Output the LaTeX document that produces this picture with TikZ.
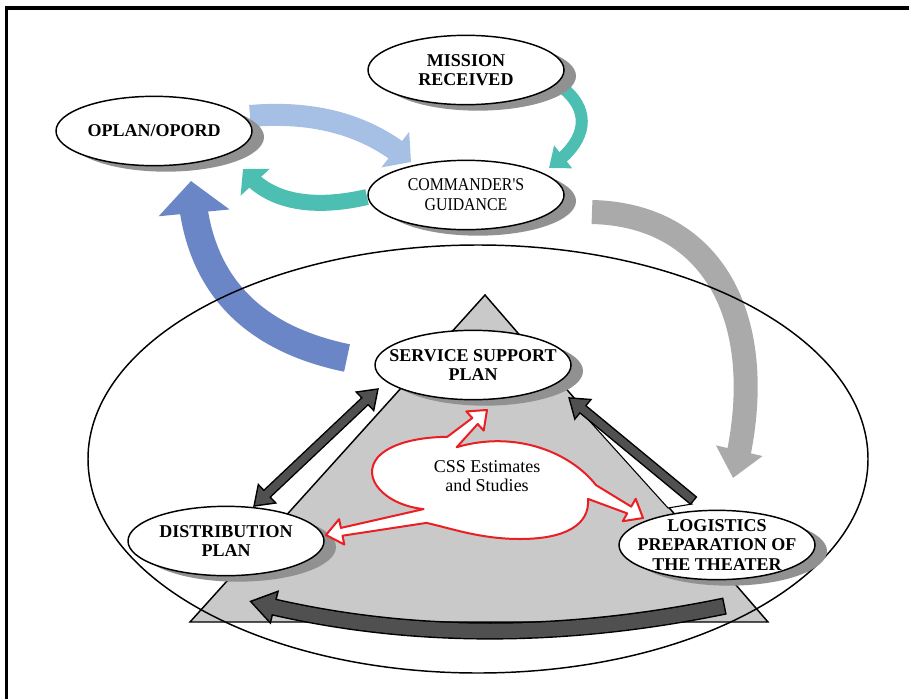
\documentclass[tikz,border=0pt]{standalone}
\usepackage{fontspec}
\setmainfont{Liberation Serif}
\newfontfamily\narrowserif[FakeStretch=0.88]{Liberation Serif}
\usetikzlibrary{shapes.geometric,shadows,arrows.meta,bending}
\definecolor{paleblue}{RGB}{166,191,229}
\definecolor{deepblue}{RGB}{106,134,198}
\definecolor{tealarrow}{RGB}{77,190,178}
\definecolor{lightarrow}{RGB}{170,170,170}
\definecolor{darkarrow}{RGB}{80,80,80}
\definecolor{trifill}{RGB}{201,201,201}
\definecolor{shadowgray}{RGB}{145,145,145}
\definecolor{cssred}{RGB}{235,30,35}

\begin{document}
\begin{tikzpicture}[x=0.75pt,y=-0.75pt,
	planbox/.style={ellipse,draw=black,line width=1.1pt,fill=white,minimum width=147pt,minimum height=52pt,inner sep=-12pt,align=center,font=\bfseries\fontsize{13.5}{14.5}\selectfont,drop shadow={shadow xshift=9pt,shadow yshift=-4.5pt,fill=shadowgray,opacity=1}},
	darkedge/.style={black,line width=8pt},
	darkcore/.style={darkarrow,line width=5.8pt,shorten >=1.98pt,shorten <=1.1pt},
	EdgeTip/.tip={Triangle[length=15pt,width=20pt]},
	CoreTip/.tip={Triangle[length=11.9pt,width=15.9pt]}]
					\useasboundingbox (0,0) rectangle (909,699);
					\coordinate (pb1) at (250,116);
					\coordinate (pb2) at (411,162);
					\coordinate (tm1) at (563,88);
					\coordinate (tm2) at (549,168);
					\coordinate (tc1) at (367,197);
					\coordinate (tc2) at (243,169);
					\coordinate (db1) at (347,358);
					\coordinate (db2) at (191,181);
					\coordinate (lg1) at (592,212);
					\coordinate (lg2) at (733,478);
					\coordinate (sd1) at (253,507);
					\coordinate (sd2) at (379,388);
					\coordinate (ls1) at (694,501);
					\coordinate (ls2) at (568,397);
					\coordinate (ld1) at (725,606);
					\coordinate (ld2) at (249,601);
					
					\draw[line width=3pt] (5,8.5) -- (909,8.5);
					\draw[line width=2.2pt] (6.5,7) -- (6.5,699);
					
					\draw[paleblue,line width=16.5pt,-{Triangle[length=15pt,width=33pt]}] (pb1) .. controls (320,110) and (372,128) .. (pb2);
					\draw[tealarrow,line width=9pt,-{Triangle[length=13.5pt,width=21pt]}] (tm1) .. controls (590,110) and (590,140) .. (tm2);
					\draw[tealarrow,line width=12pt,-{Triangle[length=13.5pt,width=29pt]}] (tc1) .. controls (320,208) and (270,206) .. (tc2);
					\draw[deepblue,line width=21pt,-{Triangle[length=24pt,width=52pt]}] (db1) .. controls (260,340) and (195,290) .. (db2);
					\draw[lightarrow,line width=18pt,-{Triangle[length=21pt,width=34.5pt]}] (lg1) .. controls (720,215) and (772,330) .. (lg2);
					
					\draw[fill=trifill,line width=1.1pt] (485,295) -- (190,622) -- (768,622) -- cycle;
					\draw[line width=1.1pt] (478,459) ellipse [x radius=390,y radius=214];
					
					\node[planbox] (mission) at (466,70) {MISSION\\RECEIVED};
					\node[planbox] (oplan) at (154,131) {OPLAN/OPORD};
					\node[planbox,font=\narrowserif\fontsize{13.5}{15}\selectfont] (cmdr) at (466,195) {COMMANDER'S\\GUIDANCE};
					\node[planbox] (ssp) at (473,365) {SERVICE SUPPORT\\PLAN};
					\node[planbox] (dist) at (226,541) {DISTRIBUTION\\PLAN};
					\node[planbox] (lpt) at (717,545) {LOGISTICS\\PREPARATION OF\\THE THEATER};
					
					\draw[darkedge,{EdgeTip}-{EdgeTip}] (sd1) -- (sd2);
					\draw[darkcore,shorten <=1.98pt,{CoreTip}-{CoreTip}] (sd1) -- (sd2);
					\draw[fill=white,line width=0.8pt] (580,412) -- (692,504) -- (668,508) -- (576,406) -- cycle;
					\draw[darkedge,-{EdgeTip}] (ls1) -- (ls2);
					\draw[darkcore,-{CoreTip}] (ls1) -- (ls2);
					\draw[black,line width=13pt,-{Triangle[length=20pt,width=25pt]}] (ld1) .. controls (560,640) and (400,640) .. (ld2);
					\draw[darkarrow,line width=10.8pt,shorten >=2.2pt,shorten <=1.1pt,-{Triangle[length=16.6pt,width=20.8pt]}] (ld1) .. controls (560,640) and (400,640) .. (ld2);
					
					\draw[cssred,fill=white,line width=1.5pt,line join=round] (423.6,509.1) .. controls (385,505) and (360,478) .. (378,457) .. controls (393,441) and (425,437) .. (447.3,436.8) -- (472.3,418) -- (466.3,411.4) -- (487,410) -- (483.7,430.6) -- (477.7,424) -- (456.7,447.2) .. controls (515,430) and (570,452) .. (596,485.1) -- (631.2,506.6) -- (635.7,498.8) -- (643,518) -- (622.7,521.2) -- (627.2,513.4) -- (588,498.9) .. controls (590,525) and (565,539) .. (520,539) .. controls (480,539) and (450,528) .. (426.4,522.9) -- (342.5,535.7) -- (344.3,544.5) -- (326,535) -- (339.1,519.1) -- (340.9,527.9) -- cycle;
					\node[font=\fontsize{13.5}{14.5}\selectfont,align=center] (css) at (487,476) {CSS Estimates\\and Studies};
				\end{tikzpicture}
\end{document}
